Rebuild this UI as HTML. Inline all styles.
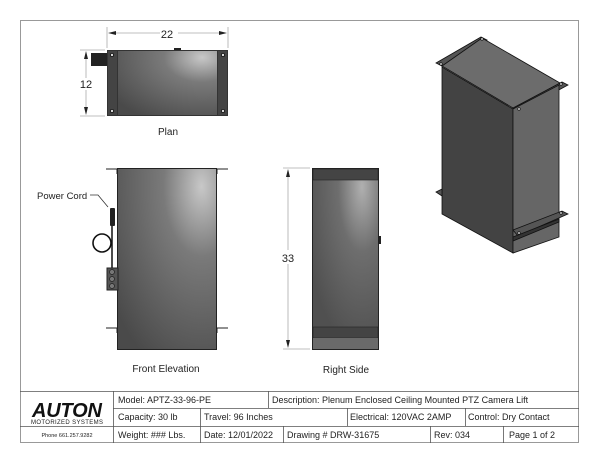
<!DOCTYPE html>
<html><head><meta charset="utf-8"><style>
body{margin:0;background:#fff}
svg{display:block}
text{font-family:"Liberation Sans",sans-serif;fill:#222}
</style></head><body>
<svg width="600" height="464" viewBox="0 0 600 464" xmlns="http://www.w3.org/2000/svg">
<defs>
<radialGradient id="g1" cx="0.85" cy="0.1" r="1.1">
<stop offset="0" stop-color="#c8c8c8"/><stop offset="0.35" stop-color="#7a7a7a"/><stop offset="1" stop-color="#4a4a4a"/>
</radialGradient>
<radialGradient id="g2" cx="0.75" cy="0.1" r="0.9">
<stop offset="0" stop-color="#b0b0b0"/><stop offset="0.4" stop-color="#6e6e6e"/><stop offset="1" stop-color="#505050"/>
</radialGradient>
</defs>
<rect x="20.5" y="20.5" width="558" height="422" fill="none" stroke="#999" stroke-width="1"/>

<!-- PLAN -->
<g stroke="#111" stroke-width="0.8">
<line x1="107" y1="27" x2="107" y2="48" stroke="#aaa"/><line x1="228" y1="27" x2="228" y2="48" stroke="#aaa"/>
<line x1="110" y1="33" x2="160" y2="33" stroke="#aaa"/><line x1="178" y1="33" x2="225" y2="33" stroke="#aaa"/>
<line x1="80" y1="50" x2="105" y2="50" stroke="#aaa"/><line x1="80" y1="116" x2="105" y2="116" stroke="#aaa"/>
<line x1="86" y1="53" x2="86" y2="78" stroke="#aaa"/><line x1="86" y1="90" x2="86" y2="113" stroke="#aaa"/>
</g>
<path d="M108 33l8-2v4z M227 33l-8-2v4z M86 51l-2 8h4z M86 115l-2-8h4z" fill="#222"/>
<text x="167" y="38" font-size="11" text-anchor="middle">22</text>
<text x="86" y="88" font-size="11" text-anchor="middle">12</text>
<rect x="91" y="53" width="16" height="13" fill="#222"/>
<rect x="174" y="48" width="7" height="3" fill="#222"/>
<rect x="107" y="50" width="121" height="66" fill="#333"/>
<rect x="118" y="51" width="99" height="64" fill="url(#g1)"/>
<rect x="108" y="51" width="9" height="64" fill="#444"/><rect x="218" y="51" width="9" height="64" fill="#444"/>
<g fill="#ddd" stroke="#111" stroke-width="0.8"><circle cx="112" cy="55" r="1.6"/><circle cx="112" cy="111" r="1.6"/><circle cx="223" cy="55" r="1.6"/><circle cx="223" cy="111" r="1.6"/></g>
<text x="168" y="135" font-size="10" text-anchor="middle">Plan</text>

<!-- FRONT ELEVATION -->
<g stroke="#222" stroke-width="1">
<line x1="106" y1="169" x2="228" y2="169"/><line x1="106" y1="328" x2="228" y2="328"/>
<line x1="117" y1="169" x2="117" y2="174"/><line x1="217" y1="169" x2="217" y2="174"/>
<line x1="117" y1="328" x2="117" y2="333"/><line x1="217" y1="328" x2="217" y2="333"/>
</g>
<rect x="117.5" y="168.5" width="99" height="181" fill="url(#g1)" stroke="#222"/>
<text x="37" y="199" font-size="9.5">Power Cord</text>
<path d="M90 195h8l10 12" fill="none" stroke="#333" stroke-width="0.8"/>
<rect x="110" y="208" width="5" height="18" rx="1" fill="#222"/>
<path d="M112 226v42" fill="none" stroke="#111" stroke-width="1.5"/>
<circle cx="102" cy="243" r="9" fill="none" stroke="#111" stroke-width="1.6"/>
<rect x="107" y="268" width="11" height="22" fill="#555" stroke="#222"/>
<g fill="#777" stroke="#222" stroke-width="0.7"><circle cx="112" cy="272" r="2.5"/><circle cx="112" cy="279" r="2.5"/><circle cx="112" cy="286" r="2.5"/></g>
<text x="166" y="372" font-size="10" text-anchor="middle">Front Elevation</text>

<!-- RIGHT SIDE -->
<g stroke="#aaa" stroke-width="0.8">
<line x1="283" y1="168" x2="310" y2="168"/><line x1="283" y1="349" x2="310" y2="349"/>
<line x1="288" y1="171" x2="288" y2="250"/><line x1="288" y1="264" x2="288" y2="346"/>
</g>
<path d="M288 169l-2 8h4z M288 348l-2-8h4z" fill="#222"/>
<text x="288" y="262" font-size="11" text-anchor="middle">33</text>
<rect x="312.5" y="168.5" width="66" height="181" fill="url(#g2)" stroke="#222"/>
<rect x="313" y="169" width="65" height="11" fill="#444" stroke="#222" stroke-width="0.6"/>
<rect x="313" y="327" width="65" height="11" fill="#444" stroke="#222" stroke-width="0.6"/>
<rect x="313" y="338" width="65" height="11" fill="#6a6a6a"/>
<rect x="378" y="236" width="3" height="8" fill="#222"/>
<text x="346" y="373" font-size="10" text-anchor="middle">Right Side</text>

<!-- ISO -->
<g stroke="#111" stroke-width="0.8">
<polygon points="436,63 481,37 487,40 442,66" fill="#555"/>
<polygon points="513,108 562,82 568,85 518,112" fill="#555"/>
<polygon points="442,66 482,38 560,83 513,108" fill="#6c6c6c"/>
<polygon points="442,67 513,109 513,253 442,214" fill="#434343"/>
<polygon points="513,109 559,85 559,237 513,253" fill="#666"/>
<polygon points="436,192 442,189 442,196" fill="#555"/>
<polygon points="513,230 562,211 568,214 518,236" fill="#555"/>
<polygon points="513,237 559,219 559,222 513,241" fill="#333"/>
</g>
<g fill="#ccc" stroke="#111" stroke-width="0.6"><circle cx="441" cy="64" r="1.3"/><circle cx="482" cy="39" r="1.3"/><circle cx="519" cy="109" r="1.3"/><circle cx="561" cy="84" r="1.3"/><circle cx="519" cy="233" r="1.3"/><circle cx="561" cy="213" r="1.3"/></g>

<!-- TITLE BLOCK -->
<g fill="none" stroke="#555" stroke-width="0.8">
<line x1="20" y1="391.5" x2="579" y2="391.5"/>
<line x1="113" y1="408.5" x2="579" y2="408.5"/>
<line x1="113" y1="426.5" x2="579" y2="426.5"/>
<line x1="20" y1="426.5" x2="113" y2="426.5"/>
<line x1="113.5" y1="391" x2="113.5" y2="443"/>
<line x1="268.5" y1="391" x2="268.5" y2="408"/>
<line x1="200.5" y1="408" x2="200.5" y2="443"/>
<line x1="347.5" y1="408" x2="347.5" y2="426"/>
<line x1="465.5" y1="408" x2="465.5" y2="426"/>
<line x1="283.5" y1="426" x2="283.5" y2="443"/>
<line x1="430.5" y1="426" x2="430.5" y2="443"/>
<line x1="503.5" y1="426" x2="503.5" y2="443"/>
</g>
<text x="67" y="417" font-size="20" font-weight="bold" font-style="italic" text-anchor="middle" textLength="70" style="fill:#111">AUTON</text>
<text x="67" y="424" font-size="6" text-anchor="middle" textLength="72">MOTORIZED SYSTEMS</text>
<text x="67" y="437" font-size="5.5" text-anchor="middle">Phone 661.257.9282</text>
<g font-size="9">
<text x="118" y="403">Model:  APTZ-33-96-PE</text>
<text x="272" y="403">Description: Plenum Enclosed Ceiling Mounted PTZ Camera Lift</text>
<text x="118" y="420">Capacity:  30 lb</text>
<text x="204" y="420">Travel:  96 Inches</text>
<text x="350" y="420">Electrical: 120VAC  2AMP</text>
<text x="468" y="420">Control:  Dry Contact</text>
<text x="118" y="438">Weight: ### Lbs.</text>
<text x="204" y="438">Date: 12/01/2022</text>
<text x="287" y="438">Drawing # DRW-31675</text>
<text x="434" y="438">Rev:  034</text>
<text x="509" y="438">Page 1  of  2</text>
</g>
</svg>
</body></html>
